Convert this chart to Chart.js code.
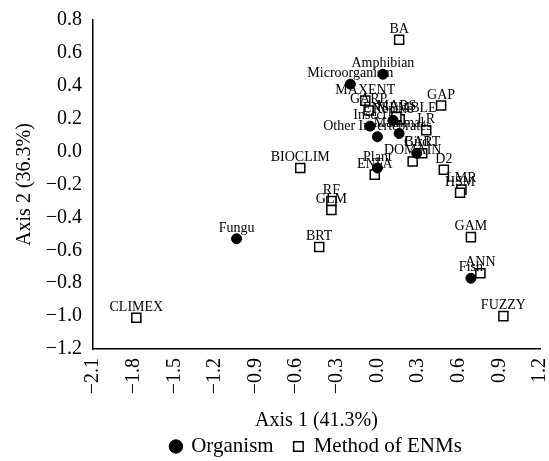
<!DOCTYPE html>
<html>
<head>
<meta charset="utf-8">
<script src="https://cdn.jsdelivr.net/npm/chart.js@4.4.1/dist/chart.umd.min.js"></script>
<style>
  html, body { margin: 0; padding: 0; background: #fff; }
  #wrap { width: 549px; height: 461px; }
</style>
</head>
<body>
<div id="wrap"><canvas id="chart"></canvas></div>
<script>
// organisms (filled circles)
const organismNames = ["Amphibian", "Microorganism", "Insect", "Reptile", "Other Invertebrates", "Mammal", "Bird", "Plant", "Fungu", "Fish"];
const organismX = [0.04, -0.20, -0.055, 0.115, 0.0, 0.16, 0.29, 0.0, -1.04, 0.69];
const organismY = [0.47, 0.41, 0.155, 0.19, 0.09, 0.11, -0.01, -0.10, -0.53, -0.77];

// methods of ENMs (open squares)
const methodNames = ["BA", "MAXENT", "GARP", "ENSEMBLE", "MARS", "GAP", "LR", "CART", "DOMAIN", "D2", "ENFA", "BIOCLIM", "RF", "GLM", "BRT", "LMR", "HSM", "GAM", "ANN", "FUZZY", "CLIMEX"];
const methodX = [0.16, -0.09, -0.065, 0.164, 0.14, 0.47, 0.36, 0.33, 0.26, 0.49, -0.02, -0.57, -0.34, -0.34, -0.43, 0.62, 0.61, 0.69, 0.76, 0.93, -1.78];
const methodY = [0.68, 0.31, 0.25, 0.196, 0.21, 0.28, 0.13, -0.01, -0.06, -0.11, -0.14, -0.10, -0.30, -0.355, -0.58, -0.23, -0.25, -0.52, -0.74, -1.0, -1.01];

const xTicks = [-2.1, -1.8, -1.5, -1.2, -0.9, -0.6, -0.3, 0.0, 0.3, 0.6, 0.9, 1.2];
const yTicks = [0.8, 0.6, 0.4, 0.2, 0.0, -0.2, -0.4, -0.6, -0.8, -1.0, -1.2];

const serif = "'Liberation Serif', 'DejaVu Serif', serif";

const fmt = (v) => {
  const s = Math.abs(v).toFixed(1);
  return v < -1e-9 ? "\u2212" + s : s;
};

const toPoints = (xs, ys) => xs.map((x, i) => ({ x: x, y: ys[i] }));

// draws the name above every point
const pointLabels = {
  id: "pointLabels",
  afterDatasetsDraw(chart) {
    const ctx = chart.ctx;
    const names = [organismNames, methodNames];
    ctx.save();
    ctx.font = "14px " + serif;
    ctx.fillStyle = "#000";
    ctx.textAlign = "center";
    ctx.textBaseline = "alphabetic";
    chart.data.datasets.forEach((ds, i) => {
      const meta = chart.getDatasetMeta(i);
      meta.data.forEach((pt, j) => {
        ctx.fillText(names[i][j], pt.x, pt.y - 7);
      });
    });
    ctx.restore();
  }
};

new Chart(document.getElementById("chart"), {
  type: "scatter",
  data: {
    datasets: [
      {
        label: "Organism",
        data: toPoints(organismX, organismY),
        pointStyle: "circle",
        pointRadius: 5,
        backgroundColor: "#000",
        borderColor: "#000",
        borderWidth: 1
      },
      {
        label: "Method of ENMs",
        data: toPoints(methodX, methodY),
        pointStyle: "rect",
        pointRadius: 6.4,
        backgroundColor: "#fff",
        borderColor: "#000",
        borderWidth: 1.5
      }
    ]
  },
  options: {
    responsive: true,
    maintainAspectRatio: false,
    animation: false,
    layout: { padding: { top: 20, right: 9, left: 0, bottom: -6 } },
    plugins: {
      tooltip: { enabled: false },
      legend: {
        position: "bottom",
        fullSize: false,
        labels: {
          usePointStyle: true,
          boxWidth: 9.5,
          boxHeight: 9.5,
          padding: 20,
          color: "#000",
          font: { family: serif, size: 21 }
        }
      }
    },
    scales: {
      x: {
        type: "linear",
        min: -2.1,
        max: 1.2,
        afterBuildTicks: (s) => { s.ticks = xTicks.map((v) => ({ value: v })); },
        afterFit: (s) => { s.height = 67; s.paddingLeft = 0; s.paddingRight = 0; },
        grid: { display: false, drawTicks: false },
        border: { display: true, color: "#000", width: 1.5 },
        ticks: {
          minRotation: 90,
          maxRotation: 90,
          padding: 9,
          color: "#000",
          font: { family: serif, size: 20 },
          callback: (v) => fmt(v)
        },
        title: {
          display: true,
          text: "Axis 1 (41.3%)",
          color: "#000",
          padding: { top: 0, bottom: -17 },
          font: { family: serif, size: 20 }
        }
      },
      y: {
        type: "linear",
        min: -1.2,
        max: 0.8,
        afterBuildTicks: (s) => { s.ticks = yTicks.map((v) => ({ value: v })); },
        afterFit: (s) => { s.width = 93; s.paddingTop = 0; s.paddingBottom = 0; },
        grid: { display: false, drawTicks: false },
        border: { display: true, color: "#000", width: 1.5 },
        ticks: {
          padding: 11,
          color: "#000",
          font: { family: serif, size: 20 },
          callback: (v) => fmt(v)
        },
        title: {
          display: true,
          text: "Axis 2 (36.3%)",
          color: "#000",
          padding: { top: 13, bottom: 0 },
          font: { family: serif, size: 20 }
        }
      }
    }
  },
  plugins: [pointLabels]
});
</script>
</body>
</html>
